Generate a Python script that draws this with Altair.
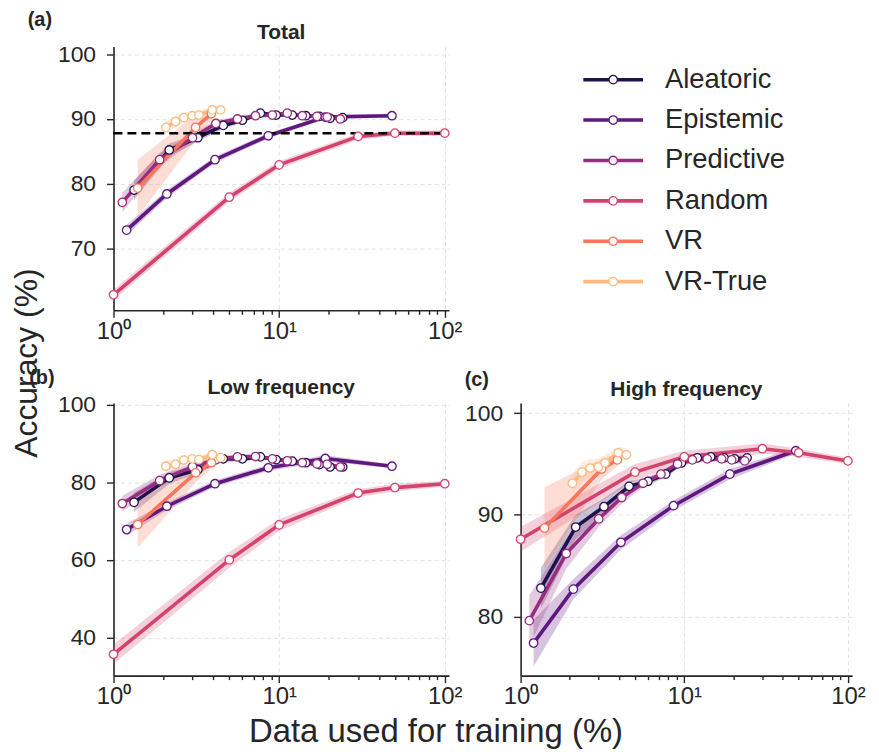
import altair as alt
import pandas as pd

FONT = "Liberation Sans"
TXT = "#262626"

methods = ["Aleatoric", "Epistemic", "Predictive", "Random", "VR", "VR-True"]
colors = ["#221150", "#5f187f", "#982d80", "#d3436e", "#f8765c", "#febb81"]

# x positions (% of data used for training), shared across panels
x_aleatoric = [1.33, 2.17, 3.23, 4.6, 6.0, 7.7, 9.6, 12.0, 14.5, 17.5, 20.3, 24.2]
x_epistemic = [1.2, 2.1, 4.1, 8.6, 19.0, 48.0]
x_predictive = [1.13, 1.9, 3.0, 4.15, 5.6, 7.2, 9.1, 11.2, 13.8, 16.9, 19.5, 23.4]
x_random = [1.0, 5.0, 10.0, 30.0, 50.0, 100.0]
x_vr = [1.4, 3.13, 3.9]
x_vr_true = [2.07, 2.37, 2.66, 2.99, 3.28, 3.95, 4.43]

# (a) Total
total_aleatoric = [79.0, 85.2, 87.1, 89.0, 89.8, 90.9, 90.6, 90.6, 90.5, 90.4, 90.1, 90.2]
total_epistemic = [72.8, 78.4, 83.7, 87.4, 90.3, 90.5]
total_predictive = [77.1, 83.7, 87.1, 89.3, 90.0, 90.5, 90.6, 90.9, 90.5, 90.4, 90.3, 90.0]
total_random = [62.8, 77.9, 82.9, 87.3, 87.8, 87.8]
total_vr = [79.3, 88.7, 90.8]
total_vr_true = [88.7, 89.6, 90.2, 90.5, 90.6, 91.4, 91.4]
total_full_data = 87.8

sd_total_aleatoric = [1.5, 1.0, 0.6, 0.5, 0.4, 0.3, 0.3, 0.3, 0.3, 0.3, 0.3, 0.3]
sd_total_epistemic = [0.8, 0.6, 0.5, 0.4, 0.3, 0.3]
sd_total_predictive = [1.5, 1.0, 0.7, 0.5, 0.4, 0.3, 0.3, 0.3, 0.3, 0.3, 0.3, 0.3]
sd_total_random = [0.8, 0.7, 0.6, 0.5, 0.4, 0.4]
sd_total_vr = [4.4, 2.0, 1.0]
sd_total_vr_true = [1.0, 0.9, 0.8, 0.7, 0.6, 0.5, 0.5]

# (b) Low frequency
low_aleatoric = [74.8, 81.1, 83.2, 86.0, 86.0, 86.5, 85.8, 85.4, 85.0, 84.5, 83.9, 83.9]
low_epistemic = [67.8, 73.8, 79.6, 83.7, 86.1, 84.1]
low_predictive = [74.5, 80.4, 84.0, 85.8, 86.5, 86.6, 86.0, 85.5, 85.0, 84.7, 84.6, 83.9]
low_random = [35.7, 60.0, 69.0, 77.2, 78.6, 79.6]
low_vr = [69.1, 82.4, 85.0]
low_vr_true = [84.1, 84.6, 85.7, 86.0, 85.8, 87.1, 86.3]

sd_low_aleatoric = [2.5, 1.5, 1.0, 0.8, 0.6, 0.5, 0.5, 0.5, 0.5, 0.5, 0.5, 0.5]
sd_low_epistemic = [1.5, 1.0, 0.8, 0.8, 0.8, 0.5]
sd_low_predictive = [2.0, 1.5, 1.0, 0.8, 0.6, 0.5, 0.5, 0.5, 0.5, 0.5, 0.5, 0.5]
sd_low_random = [2.5, 2.0, 1.5, 1.0, 1.0, 0.7]
sd_low_vr = [6.0, 2.5, 1.5]
sd_low_vr_true = [1.5, 1.3, 1.2, 1.0, 1.0, 0.8, 0.8]

# (c) High frequency
high_aleatoric = [82.8, 88.8, 90.8, 92.8, 93.3, 94.0, 95.1, 95.6, 95.7, 95.6, 95.5, 95.6]
high_epistemic = [77.4, 82.7, 87.3, 90.9, 94.0, 96.3]
high_predictive = [79.6, 86.2, 89.6, 91.7, 93.1, 94.0, 95.0, 95.4, 95.5, 95.5, 95.4, 95.3]
high_random = [87.6, 94.2, 95.7, 96.5, 96.1, 95.3]
high_vr = [88.7, 94.5, 95.4]
high_vr_true = [93.1, 94.2, 94.6, 94.7, 95.1, 96.1, 95.9]

sd_high_aleatoric = [2.0, 1.2, 0.8, 0.5, 0.4, 0.3, 0.3, 0.3, 0.3, 0.3, 0.3, 0.3]
sd_high_epistemic = [2.3, 1.0, 0.7, 0.5, 0.5, 0.3]
sd_high_predictive = [2.5, 1.5, 0.8, 0.6, 0.4, 0.3, 0.3, 0.3, 0.3, 0.3, 0.3, 0.3]
sd_high_random = [1.2, 0.8, 0.6, 0.5, 0.4, 0.3]
sd_high_vr = [4.0, 1.0, 0.6]
sd_high_vr_true = [1.0, 1.0, 0.9, 0.8, 0.8, 0.6, 0.6]

x_ticks = [1, 2, 3, 4, 5, 6, 7, 8, 9, 10, 20, 30, 40, 50, 60, 70, 80, 90, 100]
x_domain = [1, 106]

xs_all = [x_aleatoric, x_epistemic, x_predictive, x_random, x_vr, x_vr_true]


def build_df(ys, sds):
    rows = []
    for m, xs, yv, sv in zip(methods, xs_all, ys, sds):
        for xi, yi, si in zip(xs, yv, sv):
            rows.append({"method": m, "x": xi, "y": yi, "lo": yi - si, "hi": yi + si})
    return pd.DataFrame(rows)


df_total = build_df(
    [total_aleatoric, total_epistemic, total_predictive, total_random, total_vr, total_vr_true],
    [sd_total_aleatoric, sd_total_epistemic, sd_total_predictive, sd_total_random, sd_total_vr, sd_total_vr_true],
)
df_low = build_df(
    [low_aleatoric, low_epistemic, low_predictive, low_random, low_vr, low_vr_true],
    [sd_low_aleatoric, sd_low_epistemic, sd_low_predictive, sd_low_random, sd_low_vr, sd_low_vr_true],
)
df_high = build_df(
    [high_aleatoric, high_epistemic, high_predictive, high_random, high_vr, high_vr_true],
    [sd_high_aleatoric, sd_high_epistemic, sd_high_predictive, sd_high_random, sd_high_vr, sd_high_vr_true],
)

cscale = alt.Scale(domain=methods, range=colors)
major_test = "datum.value == 1 || datum.value == 10 || datum.value == 100"


def text_layer(s, dx, dy, size, bold=False, angle=None):
    kw = dict(fontSize=size, font=FONT, color=TXT, align="center", baseline="middle")
    if bold:
        kw["fontWeight"] = "bold"
    if angle is not None:
        kw["angle"] = angle
    return (
        alt.Chart(pd.DataFrame({"t": [s]}))
        .mark_text(**kw)
        .encode(x=alt.value(dx), y=alt.value(dy), text="t:N")
    )


def make_panel(df, ydom, yticks, width, height, title, title_dy, tag, tag_dx, tag_dy, extra=None, annotations=()):
    xsc = alt.Scale(type="log", domain=x_domain, nice=False)
    ysc = alt.Scale(domain=ydom, nice=False, zero=False)
    xaxis = alt.Axis(
        values=x_ticks,
        labelExpr="datum.value == 1 ? '10\u2070' : datum.value == 10 ? '10\u00b9' : datum.value == 100 ? '10\u00b2' : ''",
        grid=True,
        gridOpacity={"condition": {"test": major_test, "value": 1}, "value": 0},
        tickSize={"condition": {"test": major_test, "value": 7}, "value": 4},
        labelFontSize=24,
        labelPadding=2,
        labelOverlap=False,
        labelFlush=False,
        title=None,
    )
    yaxis = alt.Axis(values=yticks, grid=True, tickSize=7, labelFontSize=23, labelPadding=11, title=None)
    X = alt.X("x:Q", scale=xsc, axis=xaxis)
    base = alt.Chart(df)
    band = base.mark_area(opacity=0.25).encode(
        x=X,
        y=alt.Y("lo:Q", scale=ysc, axis=yaxis),
        y2="hi:Q",
        color=alt.Color("method:N", scale=cscale, legend=None),
    )
    line = base.mark_line(strokeWidth=3.6).encode(
        x=X,
        y=alt.Y("y:Q", scale=ysc, axis=yaxis),
        color=alt.Color("method:N", scale=cscale, legend=None),
        order="x:Q",
    )
    pts = base.mark_circle(size=72, fill="white", opacity=1, strokeWidth=1.3).encode(
        x=X,
        y=alt.Y("y:Q", scale=ysc, axis=yaxis),
        stroke=alt.Stroke("method:N", scale=cscale, legend=None),
    )
    layers = [band, line]
    if extra is not None:
        layers.append(
            alt.Chart(extra).mark_rule(strokeDash=[9, 5], strokeWidth=2.6, color="black").encode(
                x=X, x2="x2:Q", y=alt.Y("y:Q", scale=ysc, axis=yaxis)
            )
        )
    layers.append(pts)
    layers.extend(annotations)
    layers.append(text_layer(title, width / 2, title_dy, 21, bold=True))
    layers.append(text_layer(tag, tag_dx, tag_dy, 20, bold=True))
    return alt.layer(*layers).properties(width=width, height=height)


ref_df = pd.DataFrame({"x": [1.0], "x2": [100.0], "y": [total_full_data]})

y_title = text_layer("Accuracy (%)", -87, -40, 32, angle=270)
x_title = text_layer("Data used for training (%)", 324, 331, 33)

panel_a = make_panel(df_total, [60.4, 101.2], [70, 80, 90, 100], 337, 265, "Total", -14,
                     "(a)", -74, -27, extra=ref_df)
panel_b = make_panel(df_low, [30.2, 100.4], [40, 60, 80, 100], 337, 274, "Low frequency", -15,
                     "(b)", -72, -25, annotations=(y_title, x_title))
panel_c = make_panel(df_high, [74.2, 101.0], [80, 90, 100], 333, 274, "High frequency", -13,
                     "(c)", -44, -23)

leg_df = pd.DataFrame({"method": methods, "idx": list(range(len(methods)))})
ly = alt.Y("idx:Q", scale=alt.Scale(domain=[5.71, -0.82], nice=False, zero=False), axis=None)
leg_lines = alt.Chart(leg_df).mark_rule(strokeWidth=3.6).encode(
    x=alt.value(63), x2=alt.value(123), y=ly, color=alt.Color("method:N", scale=cscale, legend=None)
)
leg_pts = alt.Chart(leg_df).mark_circle(size=72, fill="white", opacity=1, strokeWidth=1.3).encode(
    x=alt.value(93), y=ly, stroke=alt.Stroke("method:N", scale=cscale, legend=None)
)
leg_txt = alt.Chart(leg_df).mark_text(align="left", baseline="middle", fontSize=27.5, font=FONT, color=TXT).encode(
    x=alt.value(145), y=ly, text="method:N"
)
legend = alt.layer(leg_lines, leg_pts, leg_txt).properties(width=333, height=265)

chart = (
    alt.concat(panel_a, legend, panel_b, panel_c, columns=2, spacing={"row": 93, "column": 72}, bounds="flush")
    .properties(padding={"left": 2, "top": 0, "right": 5, "bottom": 2})
    .configure(font=FONT)
    .configure_view(stroke=None)
    .configure_axis(
        domainColor=TXT,
        domainWidth=1.6,
        tickColor=TXT,
        tickWidth=1.4,
        labelColor=TXT,
        labelFont=FONT,
        gridColor="#e2e2e2",
        gridDash=[4, 3],
        gridWidth=1,
    )
)

chart.save("out.html", embed_options={"renderer": "svg", "actions": False})
